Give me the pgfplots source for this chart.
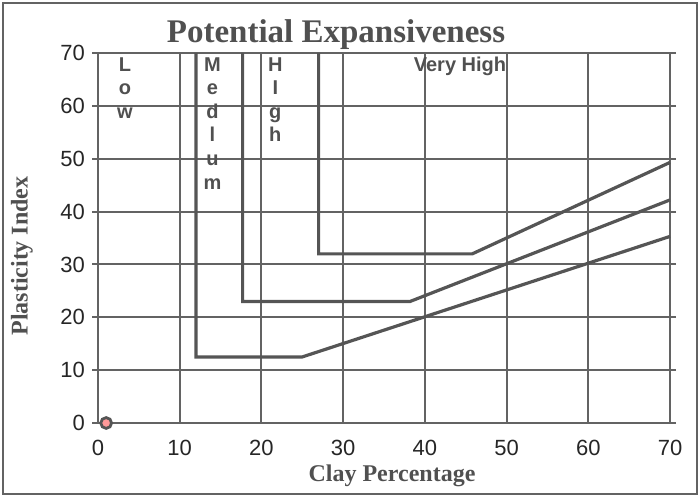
\documentclass[border=0pt]{standalone}
\usepackage{fontspec}
\setmainfont{Liberation Serif}
\newfontfamily\arial{Liberation Sans}
\usepackage{pgfplots}
\pgfplotsset{compat=1.18}
\definecolor{ln}{HTML}{555555}
\definecolor{gr}{HTML}{636363}
\definecolor{txt}{HTML}{505050}
\begin{document}
\begin{tikzpicture}[x=1pt,y=1pt]
\useasboundingbox (-49,-37) rectangle (301,211.5);
\draw[gr, line width=1.3pt] (-47.5,-35.5) rectangle (299.5,210);
\begin{axis}[
  at={(0,0)}, anchor=origin,
  scale only axis, width=286pt, height=185pt,
  xmin=0, xmax=70, ymin=0, ymax=70,
  xtick={0,10,...,70}, ytick={0,10,...,70},
  grid=major,
  major grid style={gr, line width=1pt},
  axis line style={gr, line width=1.1pt},
  tick style={gr, line width=1pt},
  tick align=outside, major tick length=3pt,
  xtick style={draw=none},
  /pgf/number format/assume math mode=true,
  ticklabel style={font=\arial\fontsize{11}{12}\selectfont, text=black!85},
  xticklabel style={yshift=-2pt},
  clip=false,
]
\addplot[ln, line width=1.6pt] coordinates {(12,70) (12,12.5) (25,12.5) (70,35.3)};
\addplot[ln, line width=1.6pt] coordinates {(17.7,70) (17.7,23) (38.2,23) (70,42.2)};
\addplot[ln, line width=1.6pt] coordinates {(27,70) (27,32) (45.8,32) (70,49.3)};
\addplot[only marks, mark=*, mark size=2.7pt, mark options={draw=ln, fill=red!40!white, line width=1.4pt}] coordinates {(1,0)};
\node[font=\arial\bfseries\fontsize{10}{11.8}\selectfont, text=txt, align=center, anchor=north] at (axis cs:3.3,70.5) {L\\o\\w};
\node[font=\arial\bfseries\fontsize{10}{11.8}\selectfont, text=txt, align=center, anchor=north] at (axis cs:14,70.5) {M\\e\\d\\l\\u\\m};
\node[font=\arial\bfseries\fontsize{10}{11.8}\selectfont, text=txt, align=center, anchor=north] at (axis cs:21.7,70.5) {H\\I\\g\\h};
\node[font=\arial\bfseries\fontsize{10}{11.8}\selectfont, text=txt, anchor=north] at (axis cs:44.3,70.5) {Very High};
\end{axis}
\node[font=\bfseries\fontsize{16.5}{18}\selectfont, text=txt] at (119,194) {Potential Expansiveness};
\node[font=\bfseries\fontsize{12}{14}\selectfont, text=txt, rotate=90] at (-38,83.5) {Plasticity Index};
\node[font=\bfseries\fontsize{12}{14}\selectfont, text=txt] at (147,-26.5) {Clay Percentage};
\end{tikzpicture}
\end{document}
